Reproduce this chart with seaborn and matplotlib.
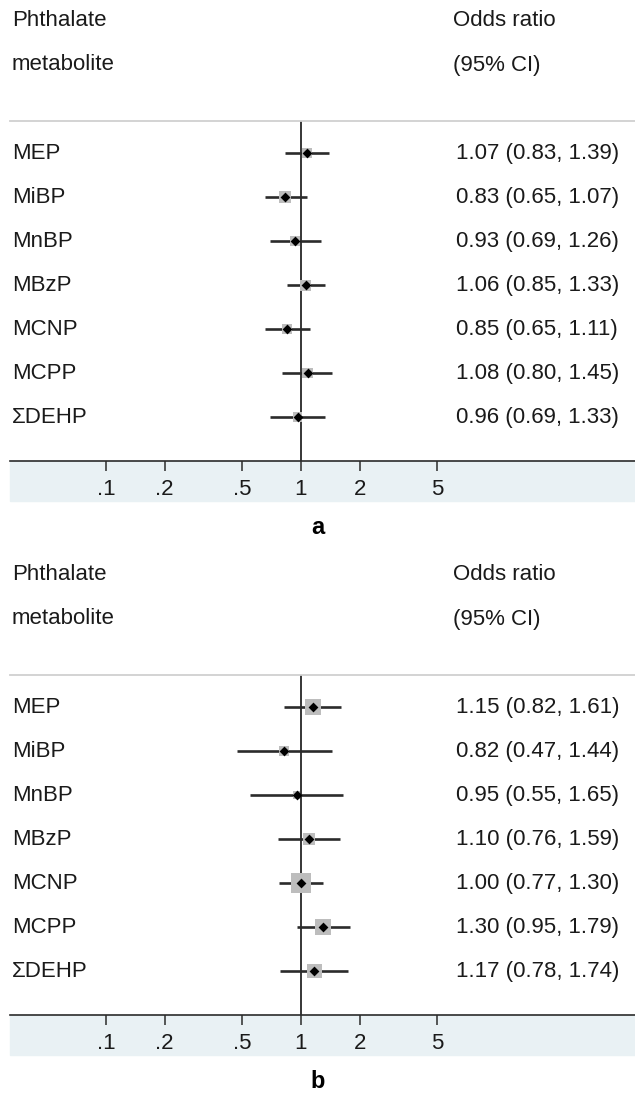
import numpy as np
import pandas as pd
import matplotlib
matplotlib.use("Agg")
import matplotlib.pyplot as plt
import matplotlib.transforms as mtransforms
from matplotlib.patches import Rectangle
from matplotlib.ticker import NullLocator
import seaborn as sns

sns.set_theme(style="white")
plt.rcParams["font.family"] = ["Liberation Sans", "DejaVu Sans"]

# ------------------------------------------
# Data
# ------------------------------------------
metabolites = ["MEP", "MiBP", "MnBP", "MBzP", "MCNP", "MCPP", "ΣDEHP"]

or_a = [1.07, 0.83, 0.93, 1.06, 0.85, 1.08, 0.96]
lo_a = [0.83, 0.65, 0.69, 0.85, 0.65, 0.80, 0.69]
hi_a = [1.39, 1.07, 1.26, 1.33, 1.11, 1.45, 1.33]
weight_a = [6, 8, 5, 7, 6, 6, 5]

or_b = [1.15, 0.82, 0.95, 1.10, 1.00, 1.30, 1.17]
lo_b = [0.82, 0.47, 0.55, 0.76, 0.77, 0.95, 0.78]
hi_b = [1.61, 1.44, 1.65, 1.59, 1.30, 1.79, 1.74]
weight_b = [14, 6, 3, 8, 21, 14, 12]

tick_values = [0.1, 0.2, 0.5, 1, 2, 5]
tick_labels = [".1", ".2", ".5", "1", "2", "5"]

# ------------------------------------------
# Figure layout (pixel helpers)
# ------------------------------------------
W, H = 635, 1094
fig = plt.figure(figsize=(W / 100, H / 100), dpi=100)

def fx(px):
    return px / W

def fy(py):
    return 1 - py / H

x_one = 301      # pixel of OR = 1
decade = 195     # pixels per decade
ax_left, ax_right = 10, 635
xlim = (10 ** ((ax_left - x_one) / decade), 10 ** ((ax_right - x_one) / decade))

FS = 16
text_col = "#1a1a1a"
line_col = "#2b2b2b"


def draw_panel(top, orv, lo, hi, weight, letter):
    bottom = top + 340
    # shaded strip under the axis (drawn behind the axes)
    fig.patches.append(Rectangle((fx(ax_left), fy(bottom + 40)), fx(ax_right - ax_left),
                                 40 / H, transform=fig.transFigure,
                                 color="#e9f1f4", zorder=-1))

    ax = fig.add_axes([fx(ax_left), fy(bottom), fx(ax_right - ax_left), (bottom - top) / H])
    ax.set_zorder(2)
    df = pd.DataFrame({"name": metabolites, "or": orv, "lo": lo, "hi": hi,
                       "w": weight, "row": np.arange(len(metabolites))})

    ax.set_xscale("log")
    ax.set_xlim(*xlim)
    ax.set_ylim(7, -0.73)

    ax.axvline(1, color="black", lw=1.1, zorder=1)
    ax.hlines(df["row"], df["lo"], df["hi"], color=line_col, lw=1.9, zorder=2)
    sides = 4.2 * np.sqrt(df["w"]) * 0.72
    ax.scatter(df["or"], df["row"], s=sides ** 2, marker="s", color="#bdbdbd",
               linewidths=0, zorder=2.5)
    sns.scatterplot(data=df, x="or", y="row", marker="D", s=25, color="black",
                    edgecolor="black", linewidth=0, ax=ax, zorder=3, legend=False)

    ax.set_xlabel("")
    ax.set_ylabel("")
    ax.set_yticks([])
    ax.set_xticks(tick_values)
    ax.set_xticklabels(tick_labels)
    ax.xaxis.set_minor_locator(NullLocator())
    ax.tick_params(axis="x", direction="out", length=7, width=1.1, color=line_col,
                   labelsize=FS, labelcolor=text_col, pad=6, bottom=True)
    for s in ["left", "right"]:
        ax.spines[s].set_visible(False)
    ax.spines["top"].set_color("#d0d0d0")
    ax.spines["top"].set_linewidth(1.3)
    ax.spines["bottom"].set_color(line_col)
    ax.spines["bottom"].set_linewidth(1.2)
    ax.set_facecolor("white")

    trans = mtransforms.blended_transform_factory(fig.transFigure, ax.transData)
    for _, r in df.iterrows():
        ax.text(fx(12), r["row"], r["name"], transform=trans, fontsize=FS,
                color=text_col, va="center", ha="left")
        ax.text(fx(456), r["row"], f"{r['or']:.2f} ({r['lo']:.2f}, {r['hi']:.2f})",
                transform=trans, fontsize=FS, color=text_col, va="center", ha="left")

    fig.text(fx(12), fy(top - 101), "Phthalate", fontsize=FS, color=text_col, va="center")
    fig.text(fx(12), fy(top - 56), "metabolite", fontsize=FS, color=text_col, va="center")
    fig.text(fx(453), fy(top - 101), "Odds ratio", fontsize=FS, color=text_col, va="center")
    fig.text(fx(453), fy(top - 56), "(95% CI)", fontsize=FS, color=text_col, va="center")
    fig.text(0.5, fy(bottom + 66), letter, fontsize=17, fontweight="bold",
             color="black", ha="center", va="center")
    return ax


draw_panel(121, or_a, lo_a, hi_a, weight_a, "a")
draw_panel(675, or_b, lo_b, hi_b, weight_b, "b")

fig.savefig("out.png", dpi=100)
